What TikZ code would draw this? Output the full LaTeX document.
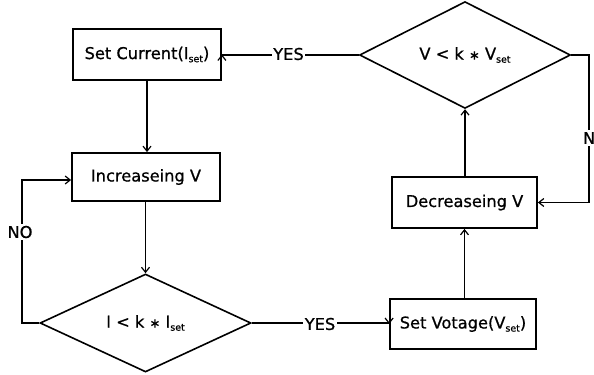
\documentclass[tikz,border=0pt]{standalone}
\usepackage{fontspec}
\setmainfont[FakeBold=0.8]{DejaVu Sans}
\usetikzlibrary{shapes.geometric,arrows.meta}
\newcommand\mysub[1]{\raisebox{-0.35ex}{\fontsize{9.5}{10}\selectfont #1}}
\newcommand\mystar{{\fontsize{13}{13}\selectfont ∗}}
\tikzset{
  every node/.style={font=\fontsize{16.3}{19}\selectfont},
  procbox/.style={draw, line width=1.8bp, rectangle, inner sep=0pt},
  decision/.style={draw, line width=1.6bp, diamond, inner sep=0pt, minimum width=211bp, minimum height=98bp},
  conn/.style={line width=1.2bp, -{Straight Barb[length=5bp,width=8bp,line width=1.2bp]}},
  lbl/.style={fill=white, inner sep=1.5bp}
}
\begin{document}
\begin{tikzpicture}[x=1bp,y=-1bp]
\useasboundingbox (0,0) rectangle (594,374);
% nodes
\node[procbox, minimum width=148bp, minimum height=51bp] (sc) at (147,54.5) {Set Current(I\mysub{set})};
\node[procbox, minimum width=148bp, minimum height=48bp] (iv) at (146,177) {Increaseing V};
\node[decision] (d1) at (145.5,323) {I < k \mystar{} I\mysub{set}};
\node[procbox, minimum width=146bp, minimum height=50bp] (sv) at (463,324) {Set Votage(V\mysub{set})};
\node[procbox, minimum width=145bp, minimum height=51bp] (dv) at (464.5,202.5) {Decreaseing V};
\node[decision, minimum height=100bp] (d2) at (465,55) {V < k \mystar{} V\mysub{set}};
% helper coordinates
\coordinate (lx) at (22,0);
\coordinate (rx) at (589,0);
\coordinate (ivin) at ([yshift=-3pt]iv.west);
% connectors
\draw[conn] (sc.south) -- (sc.south |- iv.north);
\draw[conn] (iv.south -| d1.north) -- (d1.north);
\draw[conn] (d1.west) -- (d1.west -| lx) -- (lx |- ivin) -- (ivin);
\draw[conn] (d1.east) -- (d1.east -| sv.west) -- (sv.west);
\draw[conn] (sv.north -| dv.south) -- (dv.south);
\draw[conn] (dv.north) -- (dv.north -| d2.south) -- (d2.south);
\draw[conn] (d2.east) -- (d2.east -| rx) -- (rx |- dv.east) -- (dv.east);
\draw[conn] (d2.west) -- (d2.west -| sc.east) -- (sc.east);
% labels
\node[lbl] (no1) at (20,232) {NO};
\node[lbl] (yes1) at (320,324) {YES};
\node[lbl] (yes2) at (288.5,54) {YES};
\node[lbl] (no2) at (595.5,138) {NO};
\end{tikzpicture}
\end{document}
